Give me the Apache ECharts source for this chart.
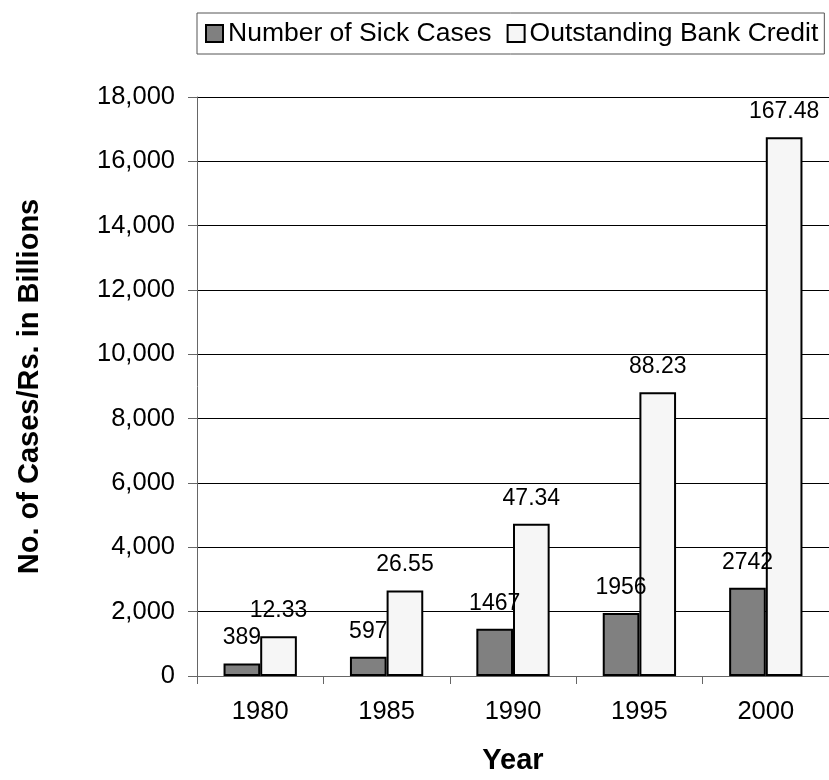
<!DOCTYPE html>
<html>
<head>
<meta charset="utf-8">
<script src="https://cdn.jsdelivr.net/npm/echarts@6/dist/echarts.min.js"></script>
<style>
html,body{margin:0;padding:0;background:#fff;}
#chart{width:829px;height:780px;}
</style>
</head>
<body>
<div id="chart"></div>
<script>
var years = ['1980', '1985', '1990', '1995', '2000'];
var sickCases = [389, 597, 1467, 1956, 2742];
var bankCreditBillions = [12.33, 26.55, 47.34, 88.23, 167.48];
var yTicks = { min: 0, max: 18000, interval: 2000 };
var seriesNames = ['Number of Sick Cases', 'Outstanding Bank Credit'];

var FONT = '"Liberation Sans", Arial, sans-serif';
var chart = echarts.init(document.getElementById('chart'));

var creditPlotted = bankCreditBillions.map(function (v) { return Math.round(v * 100); });

chart.setOption({
  animation: false,
  textStyle: { fontFamily: FONT, color: '#000' },
  legend: {
    left: 197, top: 13,
    padding: [7, 6, 7, 8],
    itemGap: 15,
    itemWidth: 17, itemHeight: 17,
    borderColor: '#555', borderWidth: 1,
    icon: 'rect',
    textStyle: { fontFamily: FONT, fontSize: 26.5, color: '#000' },
    data: [
      { name: seriesNames[0], itemStyle: { color: '#808080', borderColor: '#000', borderWidth: 2 } },
      { name: seriesNames[1], itemStyle: { color: '#f6f6f6', borderColor: '#000', borderWidth: 2 } }
    ]
  },
  grid: { left: 197, top: 97, width: 637, height: 588, containLabel: false },
  xAxis: {
    type: 'category',
    data: years,
    name: 'Year',
    nameLocation: 'middle',
    nameGap: 70,
    nameTextStyle: { fontFamily: FONT, fontSize: 29, fontWeight: 'bold', color: '#000' },
    axisLine: { lineStyle: { color: '#666', width: 1 } },
    axisTick: { show: true, length: 8, lineStyle: { color: '#666' } },
    axisLabel: { fontFamily: FONT, fontSize: 25.5, color: '#000', margin: 23 }
  },
  yAxis: {
    type: 'value',
    min: yTicks.min, max: yTicks.max, interval: yTicks.interval,
    name: 'No. of Cases/Rs. in Billions',
    nameLocation: 'middle',
    nameRotate: 90,
    nameGap: 153,
    nameTextStyle: { fontFamily: FONT, fontSize: 29, fontWeight: 'bold', color: '#000' },
    axisLine: { show: true, lineStyle: { color: '#666', width: 1 } },
    axisTick: { show: true, length: 9, lineStyle: { color: '#666' } },
    splitLine: { show: true, lineStyle: { color: '#000', width: 1 } },
    axisLabel: {
      fontFamily: FONT, fontSize: 25.5, color: '#000', margin: 22,
      formatter: function (v) { return v.toLocaleString('en-US'); }
    }
  },
  series: [
    {
      name: seriesNames[0],
      type: 'bar',
      data: sickCases,
      barGap: '0%',
      barCategoryGap: '42%',
      itemStyle: { color: '#808080', borderColor: '#000', borderWidth: 2 },
      label: {
        show: true, position: 'top', distance: 14,
        fontFamily: FONT, fontSize: 23, color: '#000'
      }
    },
    {
      name: seriesNames[1],
      type: 'bar',
      data: creditPlotted,
      barGap: '0%',
      barCategoryGap: '42%',
      itemStyle: { color: '#f6f6f6', borderColor: '#000', borderWidth: 2 },
      label: {
        show: true, position: 'top', distance: 14,
        fontFamily: FONT, fontSize: 23, color: '#000',
        formatter: function (p) { return bankCreditBillions[p.dataIndex].toFixed(2); }
      }
    }
  ]
});
</script>
</body>
</html>
